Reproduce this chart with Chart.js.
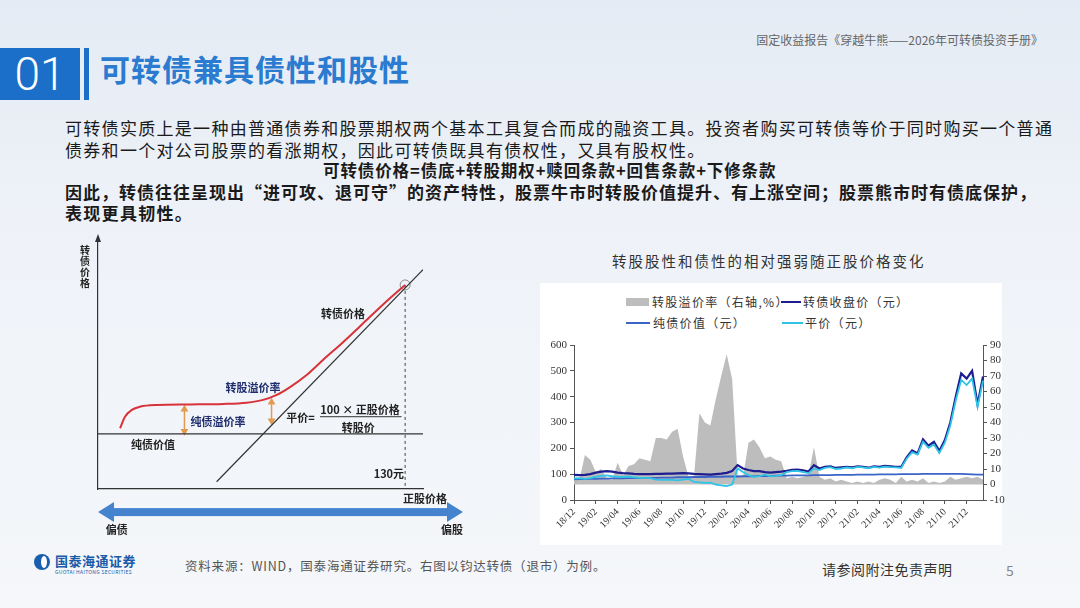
<!DOCTYPE html>
<html>
<head>
<meta charset="utf-8">
<script src="https://cdn.jsdelivr.net/npm/chart.js@4.4.0/dist/chart.umd.min.js"></script>
<style>
  body {
    margin: 0;
    width: 1080px;
    height: 608px;
    overflow: hidden;
    position: relative;
    font-family: "Noto Sans CJK SC", sans-serif;
    background: linear-gradient(180deg, #e4ebf4 0%, #eef2f8 35%, #f5f7fa 100%);
  }
  .abs { position: absolute; white-space: nowrap; }
  #header { right: 37px; top: 31px; font-size: 12px; color: #666; }
  #numBox { left: 0; top: 48px; width: 80px; height: 52px; background: #1b6fc8; color: #fff;
    font-family: Roboto, sans-serif; font-weight: 300; font-size: 46px; line-height: 52px; text-align: center; }
  #numBar { left: 84px; top: 48px; width: 5px; height: 52px; background: #1b6fc8; }
  #title { left: 100px; top: 48px; font-size: 30px; line-height: 40px; font-weight: 700; color: #2b7bd0; letter-spacing: 1px; }
  .body { left: 65px; font-size: 17px; line-height: 20px; color: #1a1a1a; letter-spacing: 1.3px; }
  .bold { font-weight: 700; }
  #panel { left: 540px; top: 283px; width: 462px; height: 262px; background: #fff; }
  #chartTitle { left: 612px; top: 250px; font-size: 14.5px; color: #333; letter-spacing: 2px; }
  .lg { font-size: 12px; color: #333; letter-spacing: 1.3px; line-height: 14px; }
  #foot1 { left: 185px; top: 556px; font-size: 12.5px; color: #555; letter-spacing: 0.8px; }
  #foot2 { left: 822px; top: 559px; font-size: 14px; color: #333; letter-spacing: 0.5px; }
  #foot3 { left: 1006px; top: 560px; font-size: 14px; color: #888; }
  #logoIcon { left: 34px; top: 554px; width: 16px; height: 16px; border-radius: 50%; background: #1a5fae; }
  #logoIcon div { position: absolute; left: 7px; top: 2px; width: 6px; height: 12px; border-radius: 50%; background: #fff; }
  #logoText { left: 55px; top: 551px; font-size: 13px; font-weight: 700; color: #1a5aa8; letter-spacing: 0.5px; }
  #logoSub { left: 55px; top: 568px; font-size: 5px; color: #1a5aa8; letter-spacing: 0.3px; }
</style>
</head>
<body>
<div id="header" class="abs">固定收益报告《穿越牛熊——2026年可转债投资手册》</div>
<div id="numBox" class="abs">01</div>
<div id="numBar" class="abs"></div>
<div id="title" class="abs">可转债兼具债性和股性</div>

<div class="abs body" style="top:118px">可转债实质上是一种由普通债券和股票期权两个基本工具复合而成的融资工具。投资者购买可转债等价于同时购买一个普通</div>
<div class="abs body" style="top:140px">债券和一个对公司股票的看涨期权，因此可转债既具有债权性，又具有股权性。</div>
<div class="abs body bold" style="top:160px;left:323px;font-size:16.5px;letter-spacing:0.9px">可转债价格=债底+转股期权+赎回条款+回售条款+下修条款</div>
<div class="abs body bold" style="top:182px;letter-spacing:1.0px">因此，转债往往呈现出“进可攻、退可守”的资产特性，股票牛市时转股价值提升、有上涨空间；股票熊市时有债底保护，</div>
<div class="abs body bold" style="top:203px">表现更具韧性。</div>

<canvas id="diagram" class="abs" style="left:60px;top:228px" width="420" height="320"></canvas>

<div id="chartTitle" class="abs">转股股性和债性的相对强弱随正股价格变化</div>
<div id="panel" class="abs"></div>
<div class="abs" style="left:626px;top:298px;width:23px;height:8px;background:#bdbdbd"></div>
<div class="abs lg" style="left:652px;top:295px">转股溢价率（右轴,%）</div>
<div class="abs" style="left:781px;top:301px;width:20px;height:2px;background:#1d1d8f"></div>
<div class="abs lg" style="left:803px;top:295px">转债收盘价（元）</div>
<div class="abs" style="left:626px;top:322px;width:24px;height:2px;background:#3b64c8"></div>
<div class="abs lg" style="left:653px;top:316px">纯债价值（元）</div>
<div class="abs" style="left:782px;top:322px;width:21px;height:2px;background:#2ec4e6"></div>
<div class="abs lg" style="left:805px;top:316px">平价（元）</div>
<canvas id="premiumChart" class="abs" style="left:540px;top:285px" width="470" height="260"></canvas>

<div id="logoIcon" class="abs"><div></div></div>
<div id="logoText" class="abs">国泰海通证券</div>
<div id="logoSub" class="abs">GUOTAI HAITONG SECURITIES</div>
<div id="foot1" class="abs">资料来源：WIND，国泰海通证券研究。右图以钧达转债（退市）为例。</div>
<div id="foot2" class="abs">请参阅附注免责声明</div>
<div id="foot3" class="abs">5</div>

<script>
// ---- right chart: 钧达转债, semi-monthly readings ----
const months = ['18/12',
  '19/01', '19/02', '19/03', '19/04', '19/05', '19/06', '19/07', '19/08', '19/09', '19/10', '19/11', '19/12',
  '20/01', '20/02', '20/03', '20/04', '20/05', '20/06', '20/07', '20/08', '20/09', '20/10', '20/11', '20/12',
  '21/01', '21/02', '21/03', '21/04', '21/05', '21/06', '21/07', '21/08', '21/09', '21/10', '21/11', '21/12',
  '22/01'];

// 转股溢价率（右轴,%）
const premium = [3, 3, 19, 16, 8, 10, 4, 3, 14, 6, 12, 13, 17, 16, 15, 30, 30, 29, 34, 36,
  18, 5, 5, 46, 40, 38, 55, 70, 84, 68, 6, 5, 27, 29, 24, 17, 18, 16, 15, 4,
  5, 4, 5, 6, 24, 5, 3, 4, 2, 3, 2, 1, 2, 1, 2, 1, 3, 4, 3, 1,
  5, 2, 3, 2, 4, 1, 2, 1, 2, 5, 3, 4, 5, 4, 5, 3];

// 转债收盘价（元）
const closePrice = [97, 96, 97, 100, 106, 110, 112, 110, 106, 104, 103, 101, 100, 100, 100, 101, 101, 102, 102, 103,
  104, 103, 101, 100, 99, 98, 100, 102, 105, 112, 135, 122, 116, 112, 112, 108, 106, 108, 110, 113,
  117, 118, 115, 110, 135, 122, 128, 130, 124, 126, 128, 126, 130, 128, 125, 130, 128, 132, 130, 128,
  128, 165, 192, 180, 235, 210, 225, 190, 232, 300, 400, 490, 470, 500, 370, 478];

// 纯债价值（元）
const bondValue = [80, 81, 81, 82, 82, 83, 83, 84, 84, 84, 85, 85, 85, 86, 86, 86, 87, 87, 87, 88,
  88, 88, 89, 89, 89, 90, 90, 90, 91, 91, 91, 92, 92, 92, 93, 93, 93, 94, 94, 94,
  95, 95, 95, 95, 96, 96, 96, 96, 97, 97, 97, 97, 98, 98, 98, 98, 99, 99, 99, 99,
  100, 100, 100, 100, 101, 101, 101, 101, 101, 101, 101, 101, 100, 99, 98, 98];

// 平价（元）
const parity = [84, 85, 82, 85, 90, 93, 95, 92, 90, 89, 91, 88, 86, 86, 85, 79, 78, 78, 78, 76,
  79, 82, 70, 68, 66, 67, 60, 57, 54, 60, 122, 108, 96, 90, 92, 98, 92, 93, 96, 108,
  112, 113, 108, 104, 122, 116, 124, 127, 120, 122, 126, 123, 128, 126, 123, 128, 125, 129, 127, 126,
  124, 160, 185, 176, 226, 202, 215, 182, 222, 288, 385, 465, 445, 470, 360, 462];

const halfMonths = months.flatMap(m => [m, m + ' 下半月']);

// ---- left diagram: schematic readings ----
const bondFloorX = [0, 100];
const bondFloorY = [22, 22];
const parityLineX = [36.5, 100];
const parityLineY = [2.9, 87.4];
const cbCurveX = [6.8, 8.3, 10.4, 12.9, 18.1, 28.3, 38.5, 45.7, 50.8, 55, 59.1, 64.2, 69.3, 75.4, 81.6, 87.8, 94.5];
const cbCurveY = [24.2, 28.8, 31.5, 32.8, 33.5, 33.7, 33.9, 34.4, 35.5, 37.5, 40.6, 45.4, 51.5, 58.5, 66, 73.6, 81.3];
const meetPoint = { x: 94.5, y: 81.3 };
const bondPremiumArrowY = [23, 31.8];   // at x 26.6
const stockPremiumArrowY = [34.6, 27.2]; // at x 53.4

const toPoints = (xs, ys) => xs.map((x, i) => ({ x, y: ys[i] }));

const diagramNotes = [
  { text: '转债价格', x: 75.4, y: 69.7, color: '#222' },
  { text: '转股溢价率', x: 47.7, y: 40.2, color: '#1f2d6e' },
  { text: '纯债溢价率', x: 36.9, y: 26.7, color: '#1f2d6e' },
  { text: '纯债价值', x: 16.9, y: 17.5, color: '#222' },
  { text: '平价=', x: 62.3, y: 28.5, color: '#222' },
  { text: '100 × 正股价格', x: 80.6, y: 31.6, color: '#222' },
  { text: '转股价', x: 80.1, y: 24.4, color: '#222' },
  { text: '130元', x: 89.5, y: 6, color: '#222' },
  { text: '正股价格', x: 100.6, y: -4, color: '#222' },
  { text: '偏债', x: 5.8, y: -16.3, color: '#222' },
  { text: '偏股', x: 108.9, y: -16.3, color: '#222' }
];
const axisTitle = '转债价格';

const diagramDecor = {
  id: 'diagramDecor',
  afterDatasetsDraw(chart) {
    const { ctx, scales: { x, y } } = chart;
    ctx.save();
    // arrow on the y axis
    const ax = x.getPixelForValue(0), ay = y.getPixelForValue(100);
    ctx.fillStyle = '#333';
    ctx.beginPath();
    ctx.moveTo(ax, ay - 4);
    ctx.lineTo(ax - 3, ay + 4);
    ctx.lineTo(ax + 3, ay + 4);
    ctx.closePath();
    ctx.fill();

    // vertical axis title
    ctx.font = 'bold 10px "Noto Sans CJK SC"';
    ctx.textAlign = 'center';
    ctx.textBaseline = 'middle';
    ctx.fillStyle = '#222';
    [...axisTitle].forEach((ch, i) => {
      ctx.fillText(ch, x.getPixelForValue(-4), y.getPixelForValue(95.2) + i * 11);
    });

    // fraction bar
    ctx.strokeStyle = '#333';
    ctx.lineWidth = 1;
    ctx.beginPath();
    ctx.moveTo(x.getPixelForValue(68.3), y.getPixelForValue(28.8));
    ctx.lineTo(x.getPixelForValue(93.4), y.getPixelForValue(28.8));
    ctx.stroke();

    // blue double arrow 偏债 <-> 偏股
    const by = y.getPixelForValue(-9.2);
    const bx0 = x.getPixelForValue(0), bx1 = x.getPixelForValue(112.3);
    ctx.fillStyle = '#4683cf';
    ctx.fillRect(bx0 + 14, by - 4, bx1 - bx0 - 28, 8);
    ctx.beginPath();
    ctx.moveTo(bx0, by);
    ctx.lineTo(bx0 + 16, by - 10);
    ctx.lineTo(bx0 + 16, by + 10);
    ctx.closePath();
    ctx.fill();
    ctx.beginPath();
    ctx.moveTo(bx1, by);
    ctx.lineTo(bx1 - 16, by - 10);
    ctx.lineTo(bx1 - 16, by + 10);
    ctx.closePath();
    ctx.fill();

    // labels
    ctx.font = 'bold 11px "Noto Sans CJK SC"';
    diagramNotes.forEach(n => {
      ctx.fillStyle = n.color;
      ctx.fillText(n.text, x.getPixelForValue(n.x), y.getPixelForValue(n.y));
    });
    ctx.restore();
  }
};

new Chart(document.getElementById('diagram'), {
  type: 'scatter',
  data: {
    datasets: [
      { data: toPoints(bondFloorX, bondFloorY), showLine: true, borderColor: '#333', borderWidth: 1.2, pointRadius: 0 },
      { data: toPoints(parityLineX, parityLineY), showLine: true, borderColor: '#333', borderWidth: 1.2, pointRadius: 0 },
      { data: toPoints(cbCurveX, cbCurveY), showLine: true, borderColor: '#d8323a', borderWidth: 2,
        pointRadius: 0, cubicInterpolationMode: 'monotone' },
      { data: [meetPoint, { x: meetPoint.x, y: 0 }], showLine: true, borderColor: '#444', borderWidth: 1,
        borderDash: [3, 3], pointRadius: 0 },
      { data: [meetPoint], pointRadius: 5, pointBackgroundColor: 'rgba(0,0,0,0)', pointBorderColor: '#888',
        pointBorderWidth: 1, clip: false },
      { data: toPoints([26.6, 26.6], bondPremiumArrowY), showLine: true, borderColor: '#e39a4e', borderWidth: 1.5,
        pointStyle: 'triangle', pointRadius: 3, pointRotation: [180, 0], pointBackgroundColor: '#e39a4e',
        pointBorderColor: '#e39a4e', clip: false },
      { data: toPoints([53.4, 53.4], stockPremiumArrowY), showLine: true, borderColor: '#e39a4e', borderWidth: 1.5,
        pointStyle: 'triangle', pointRadius: 3, pointRotation: [0, 180], pointBackgroundColor: '#e39a4e',
        pointBorderColor: '#e39a4e', clip: false }
    ]
  },
  options: {
    responsive: false,
    animation: false,
    layout: { padding: { left: 38, top: 10, right: 57, bottom: 59 } },
    plugins: { legend: { display: false }, tooltip: { enabled: false } },
    scales: {
      x: { type: 'linear', min: 0, max: 100, ticks: { display: false },
        grid: { display: false }, border: { color: '#333', width: 1.2 },
        afterFit: s => { s.height = 0; } },
      y: { type: 'linear', min: 0, max: 100, ticks: { display: false },
        grid: { display: false }, border: { color: '#333', width: 1.2 },
        afterFit: s => { s.width = 0; } }
    }
  },
  plugins: [diagramDecor]
});

// ---- right chart ----
const tickFont = { family: '"Liberation Serif", serif', size: 11 };
new Chart(document.getElementById('premiumChart'), {
  type: 'line',
  data: {
    labels: halfMonths,
    datasets: [
      { label: '转股溢价率（右轴,%）', data: premium, yAxisID: 'y1', fill: 'origin',
        backgroundColor: '#bdbdbd', borderWidth: 0, pointRadius: 0, order: 10 },
      { label: '纯债价值（元）', data: bondValue, yAxisID: 'y', borderColor: '#3b64c8',
        borderWidth: 1.8, pointRadius: 0, order: 3 },
      { label: '转债收盘价（元）', data: closePrice, yAxisID: 'y', borderColor: '#1d1d8f',
        borderWidth: 2.2, pointRadius: 0, order: 2 },
      { label: '平价（元）', data: parity, yAxisID: 'y', borderColor: '#2ec4e6',
        borderWidth: 1.8, pointRadius: 0, order: 1 }
    ]
  },
  options: {
    responsive: false,
    animation: false,
    layout: { padding: { top: 60 } },
    plugins: { legend: { display: false }, tooltip: { enabled: false } },
    scales: {
      x: {
        offset: false,
        ticks: {
          autoSkip: false, minRotation: 45, maxRotation: 45, font: { ...tickFont, size: 10 }, color: '#333',
          padding: 2,
          callback: (v, i) => (i % 4 === 0 ? months[i / 2] : '')
        },
        grid: { drawOnChartArea: false, tickLength: 4,
          color: c => (c.index % 4 === 0 ? '#555' : 'rgba(0,0,0,0)') },
        border: { color: '#555' },
        afterFit: s => { s.height = 45; }
      },
      y: {
        position: 'left', min: 0, max: 600,
        ticks: { stepSize: 100, autoSkip: false, font: tickFont, color: '#333', padding: 3 },
        grid: { drawOnChartArea: false, tickLength: 4, color: '#555' },
        border: { color: '#555' },
        afterFit: s => { s.width = 34; }
      },
      y1: {
        position: 'right', min: -10, max: 90,
        ticks: { stepSize: 10, autoSkip: false, font: tickFont, color: '#333', padding: 3 },
        grid: { drawOnChartArea: false, tickLength: 4, color: '#555' },
        border: { color: '#555' },
        afterFit: s => { s.width = 27; }
      }
    }
  }
});
</script>
</body>
</html>
